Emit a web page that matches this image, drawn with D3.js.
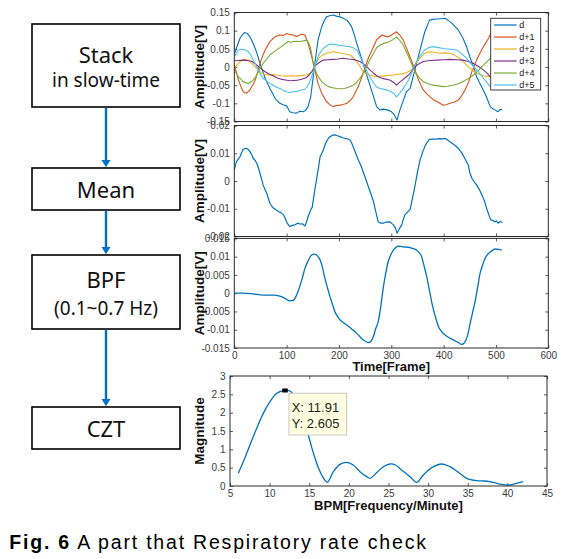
<!DOCTYPE html>
<html><head><meta charset="utf-8">
<script src="https://cdn.jsdelivr.net/npm/d3@7"></script>
<style>
body{margin:0;background:#fff;}
svg{display:block;}
</style></head><body>
<svg id="fig" width="571" height="559"></svg>
<script>
// ---------------- DATA ----------------
const flowLabels = [["Stack","in slow-time"],["Mean"],["BPF","(0.1~0.7 Hz)"],["CZT"]];
const seriesNames = ["d","d+1","d+2","d+3","d+4","d+5"];
const seriesColors = ["#0072BD","#D95319","#EDB120","#7E2F8E","#77AC30","#4DBEEE"];

const frameTicks = [0,100,200,300,400,500,600];
const amp1Ticks = [-0.15,-0.1,-0.05,0,0.05,0.1,0.15];
const amp2Ticks = [-0.02,-0.01,0,0.01,0.02];
const amp3Ticks = [-0.015,-0.01,-0.005,0,0.005,0.01,0.015];
const bpmTicks = [5,10,15,20,25,30,35,40,45];
const magTicks = [0,0.5,1,1.5,2,2.5,3];

// [frame, amplitude V]
const seriesD = [[0,0.035],[6,0.06],[11,0.079],[16,0.09],[20,0.095],[25,0.092],[30,0.083],[35,0.068],[40,0.051],[45,0.03],[49,0.01],[54,-0.01],[59,-0.031],[64,-0.047],[68,-0.059],[73,-0.072],[78,-0.086],[83,-0.095],[87,-0.1],[93,-0.104],[100,-0.107],[103,-0.115],[106,-0.123],[112,-0.126],[119,-0.127],[125,-0.122],[132,-0.123],[137,-0.118],[141,-0.109],[146,-0.082],[150,-0.036],[154,0.01],[160,0.074],[167,0.111],[172,0.128],[176,0.138],[182,0.141],[189,0.143],[195,0.14],[202,0.138],[208,0.134],[215,0.129],[220,0.12],[224,0.111],[229,0.09],[234,0.065],[243,0.024],[253,-0.022],[262,-0.063],[272,-0.109],[278,-0.118],[285,-0.116],[291,-0.118],[296,-0.12],[300,-0.123],[305,-0.13],[311,-0.146],[316,-0.12],[321,-0.1],[329,-0.068],[336,-0.059],[345,-0.008],[355,0.047],[364,0.097],[373,0.129],[380,0.131],[387,0.132],[395,0.133],[403,0.134],[410,0.127],[416,0.12],[422,0.111],[428,0.102],[437,0.079],[444,0.055],[450,0.028],[457,0.002],[463,-0.027],[471,-0.05],[479,-0.073],[484,-0.09],[489,-0.109],[494,-0.115],[498,-0.118],[504,-0.123],[508,-0.117],[512,-0.118]];
const seriesD1 = [[0,0.006],[4,-0.015],[8,-0.036],[13,-0.055],[17,-0.068],[24,-0.072],[30,-0.063],[35,-0.05],[40,-0.036],[45,-0.012],[49,0.01],[54,0.03],[59,0.047],[64,0.06],[68,0.07],[73,0.077],[78,0.083],[87,0.088],[94,0.087],[100,0.092],[107,0.089],[113,0.088],[119,0.084],[125,0.088],[130,0.09],[135,0.088],[141,0.065],[148,0.028],[154,-0.008],[160,-0.045],[167,-0.072],[176,-0.095],[182,-0.103],[189,-0.109],[196,-0.106],[202,-0.105],[208,-0.103],[215,-0.1],[221,-0.093],[227,-0.082],[237,-0.054],[246,-0.018],[256,0.024],[266,0.056],[272,0.075],[282,0.088],[288,0.085],[294,0.083],[300,0.088],[305,0.092],[310,0.097],[316,0.088],[323,0.074],[333,0.037],[342,0.005],[352,-0.036],[361,-0.063],[368,-0.074],[374,-0.082],[380,-0.09],[387,-0.095],[393,-0.1],[399,-0.105],[405,-0.104],[412,-0.1],[420,-0.097],[428,-0.091],[434,-0.08],[441,-0.063],[448,-0.04],[454,-0.013],[463,0.019],[470,0.04],[476,0.056],[486,0.079],[490,0.092],[498,0.1],[505,0.102],[512,0.1]];
const seriesD2 = [[0,-0.004],[5,0.005],[11,0.015],[16,0.02],[20,0.021],[25,0.019],[30,0.015],[36,0.006],[43,-0.004],[52,-0.017],[58,-0.02],[65,-0.022],[73,-0.021],[81,-0.022],[90,-0.024],[100,-0.025],[110,-0.024],[119,-0.025],[128,-0.023],[138,-0.022],[143,-0.019],[148,-0.013],[154,0.005],[159,0.018],[164,0.028],[170,0.034],[176,0.038],[183,0.04],[189,0.042],[197,0.04],[205,0.038],[213,0.036],[221,0.033],[228,0.025],[234,0.015],[240,0.002],[246,-0.013],[253,-0.019],[259,-0.022],[266,-0.025],[272,-0.027],[279,-0.025],[285,-0.025],[294,-0.023],[304,-0.022],[313,-0.02],[323,-0.019],[331,-0.014],[339,-0.008],[345,0.005],[352,0.019],[358,0.03],[364,0.038],[370,0.041],[377,0.042],[385,0.04],[393,0.038],[402,0.039],[412,0.038],[421,0.032],[431,0.024],[439,0.013],[447,0.001],[455,-0.009],[463,-0.017],[471,-0.022],[479,-0.025],[490,-0.027],[500,-0.026],[512,-0.027]];
const seriesD3 = [[0,0.017],[8,0.018],[17,0.019],[25,0.018],[33,0.016],[40,0.009],[46,0.001],[52,-0.006],[59,-0.013],[67,-0.02],[75,-0.025],[82,-0.03],[90,-0.034],[98,-0.036],[106,-0.038],[114,-0.037],[122,-0.036],[130,-0.033],[138,-0.029],[143,-0.022],[148,-0.013],[152,-0.004],[156,0.005],[163,0.013],[170,0.019],[180,0.02],[189,0.021],[198,0.022],[208,0.024],[218,0.022],[227,0.021],[234,0.018],[240,0.015],[247,0.008],[253,0.001],[259,-0.008],[266,-0.017],[272,-0.024],[278,-0.029],[285,-0.032],[291,-0.034],[297,-0.036],[304,-0.042],[310,-0.05],[315,-0.043],[321,-0.036],[327,-0.029],[333,-0.022],[339,-0.012],[345,0.001],[353,0.009],[361,0.015],[374,0.018],[387,0.019],[400,0.02],[412,0.021],[425,0.02],[437,0.019],[447,0.015],[457,0.01],[466,0.002],[476,-0.008],[483,-0.017],[489,-0.027],[500,-0.03],[512,-0.032]];
const seriesD4 = [[0,-0.008],[4,-0.018],[8,-0.027],[13,-0.034],[17,-0.04],[22,-0.043],[27,-0.045],[31,-0.042],[36,-0.036],[41,-0.026],[46,-0.013],[50,-0.002],[55,0.01],[62,0.022],[68,0.033],[75,0.041],[81,0.047],[88,0.054],[94,0.06],[99,0.066],[103,0.07],[108,0.068],[113,0.07],[119,0.071],[125,0.07],[132,0.072],[138,0.074],[142,0.066],[145,0.056],[148,0.035],[151,0.01],[157,-0.017],[162,-0.03],[167,-0.04],[173,-0.048],[180,-0.054],[188,-0.057],[196,-0.059],[204,-0.06],[211,-0.059],[219,-0.055],[227,-0.05],[234,-0.042],[240,-0.031],[247,-0.016],[253,0.001],[259,0.02],[266,0.038],[272,0.053],[278,0.06],[285,0.065],[291,0.067],[297,0.07],[304,0.076],[310,0.083],[315,0.075],[321,0.065],[327,0.047],[333,0.028],[339,0.008],[345,-0.013],[353,-0.029],[361,-0.04],[370,-0.046],[380,-0.05],[390,-0.052],[399,-0.054],[408,-0.053],[418,-0.05],[428,-0.046],[437,-0.04],[447,-0.032],[457,-0.022],[466,-0.01],[476,0.005],[483,0.015],[489,0.024],[500,0.04],[512,0.055]];
const seriesD5 = [[0,0.028],[4,0.038],[8,0.047],[13,0.049],[17,0.048],[22,0.046],[27,0.042],[32,0.032],[36,0.019],[41,0.006],[46,-0.008],[50,-0.02],[55,-0.031],[62,-0.039],[68,-0.045],[75,-0.051],[81,-0.056],[88,-0.06],[94,-0.065],[100,-0.068],[106,-0.07],[112,-0.068],[119,-0.067],[127,-0.064],[135,-0.061],[139,-0.055],[143,-0.045],[147,-0.03],[151,-0.013],[155,0.006],[160,0.028],[165,0.042],[170,0.051],[176,0.058],[183,0.063],[192,0.062],[202,0.06],[211,0.058],[221,0.056],[228,0.052],[234,0.047],[240,0.03],[246,0.01],[253,-0.01],[259,-0.027],[266,-0.044],[272,-0.055],[278,-0.059],[285,-0.061],[291,-0.063],[297,-0.066],[304,-0.072],[310,-0.082],[316,-0.072],[321,-0.063],[327,-0.05],[333,-0.036],[340,-0.012],[348,0.015],[356,0.033],[364,0.047],[370,0.052],[377,0.056],[388,0.054],[399,0.051],[412,0.049],[425,0.047],[435,0.036],[444,0.024],[453,0.008],[463,-0.008],[471,-0.022],[479,-0.036],[489,-0.054],[500,-0.06],[512,-0.062]];
const meanD = [[0,0.004],[4,0.007],[8,0.008],[11,0.0088],[14,0.0102],[17,0.0114],[22,0.0118],[26,0.0115],[30,0.0106],[33,0.0096],[36,0.0082],[40,0.0074],[43,0.0064],[46,0.0048],[49,0.0028],[52,0.0008],[55,-0.0014],[59,-0.0032],[62,-0.0044],[65,-0.0062],[68,-0.008],[72,-0.0092],[75,-0.0098],[80,-0.0104],[84,-0.011],[89,-0.0114],[94,-0.0122],[98,-0.0138],[101,-0.0152],[106,-0.0164],[111,-0.016],[116,-0.0158],[121,-0.0152],[125,-0.0155],[130,-0.0154],[135,-0.0162],[138,-0.0148],[141,-0.0128],[146,-0.0104],[149,-0.0094],[151,-0.0068],[154,-0.003],[157,0.0004],[161,0.005],[164,0.0088],[167,0.0098],[170,0.0112],[173,0.0128],[176,0.0142],[180,0.0154],[183,0.016],[188,0.0165],[192,0.0166],[197,0.0163],[202,0.016],[207,0.0156],[211,0.0154],[216,0.0152],[221,0.0148],[224,0.0138],[227,0.0124],[232,0.01],[237,0.0076],[242,0.0056],[246,0.0034],[251,0.0008],[256,-0.002],[261,-0.0046],[266,-0.0074],[270,-0.0108],[275,-0.0147],[280,-0.0152],[285,-0.0152],[290,-0.0148],[297,-0.0147],[304,-0.0158],[308,-0.017],[311,-0.0188],[316,-0.017],[320,-0.0158],[323,-0.0138],[326,-0.0122],[331,-0.0112],[336,-0.0102],[340,-0.0066],[345,-0.002],[350,0.0032],[355,0.0076],[360,0.0104],[364,0.0124],[368,0.0138],[373,0.015],[380,0.0151],[387,0.0151],[392,0.0153],[398,0.0152],[403,0.0154],[410,0.0144],[416,0.0136],[422,0.0128],[428,0.0118],[433,0.0106],[437,0.0094],[442,0.0076],[447,0.0058],[450,0.003],[454,0.001],[458,-0.0002],[463,-0.0014],[468,-0.003],[473,-0.005],[478,-0.0072],[482,-0.0098],[486,-0.012],[490,-0.014],[494,-0.0142],[498,-0.0147],[501,-0.0144],[504,-0.0152],[508,-0.0146],[512,-0.015]];
const bpfD = [[0,0],[17,0],[36,-0.0002],[55,-0.0005],[75,-0.0005],[87,-0.0008],[97,-0.0014],[106,-0.0021],[113,-0.0019],[119,-0.0005],[125,0.0018],[130,0.0042],[135,0.0068],[141,0.0088],[146,0.0102],[150,0.0106],[154,0.0107],[159,0.0102],[164,0.0091],[169,0.0068],[173,0.0041],[178,0.0015],[183,-0.001],[188,-0.0032],[192,-0.005],[197,-0.0063],[202,-0.0073],[208,-0.008],[215,-0.0087],[221,-0.0094],[227,-0.0101],[234,-0.011],[240,-0.0119],[245,-0.0126],[250,-0.0131],[256,-0.0135],[261,-0.0132],[266,-0.0118],[270,-0.0098],[275,-0.0078],[280,-0.0035],[285,0.0018],[290,0.006],[294,0.0086],[299,0.0105],[304,0.0118],[309,0.0126],[313,0.0129],[318,0.0128],[323,0.0127],[330,0.0126],[336,0.0125],[342,0.0122],[348,0.0118],[353,0.0111],[358,0.01],[362,0.0078],[367,0.005],[372,0.0014],[377,-0.0023],[382,-0.0053],[387,-0.0078],[391,-0.0094],[396,-0.0105],[404,-0.0116],[412,-0.0123],[419,-0.0128],[425,-0.0133],[430,-0.0137],[434,-0.014],[438,-0.0138],[441,-0.0133],[446,-0.0114],[450,-0.0087],[455,-0.0055],[460,-0.0023],[465,0.0016],[469,0.005],[474,0.0075],[479,0.0095],[484,0.0106],[489,0.0113],[494,0.0118],[498,0.0121],[505,0.012],[511,0.0118]];
// [BPM, magnitude]
const cztD = [[6.05,0.35],[6.68,0.66],[7.52,1.12],[8.36,1.57],[9.2,1.98],[10.05,2.3],[10.89,2.53],[11.91,2.605],[12.57,2.59],[13.3,2.4],[14.0,2.0],[14.88,1.39],[15.3,1.06],[15.73,0.755],[16.15,0.5],[16.57,0.3],[17.28,0.1],[18.04,0.39],[18.88,0.59],[19.72,0.645],[20.56,0.573],[21.4,0.39],[22.24,0.255],[22.66,0.21],[23.5,0.36],[24.35,0.527],[25.19,0.6],[25.82,0.58],[26.66,0.436],[27.71,0.254],[28.55,0.1],[29.4,0.3],[30.45,0.5],[31.71,0.6],[32.76,0.527],[33.81,0.373],[34.86,0.209],[36.12,0.145],[37.17,0.136],[38.22,0.1],[39.27,0.045],[40.32,0.027],[41.16,0.073],[42.0,0.118]];
const peakBPM = 11.91, peakMag = 2.605;
const captionBold = "Fig. 6", captionText = " A part that Respiratory rate check";

// ---------------- DRAW ----------------
const svg = d3.select("#fig");
const SANS = "'Liberation Sans', Arial, sans-serif";
const FLOWFONT = "'Noto Sans', 'Open Sans', sans-serif";

// Flowchart
const boxX0 = 32, boxX1 = 180, boxCx = 106;
const boxY = [[24,107],[168,210],[255,329],[407,449]];
const textLayout = [[[62.7,22],[87.3,19]],[[198.3,22]],[[288.3,22],[315,19]],[[436.7,22]]];
const fc = svg.append("g");
flowLabels.forEach((lines,i)=>{
  const [y0,y1] = boxY[i];
  fc.append("rect").attr("x",boxX0).attr("y",y0).attr("width",boxX1-boxX0).attr("height",y1-y0)
    .attr("fill","#fff").attr("stroke","#000").attr("stroke-width",1.6);
  lines.forEach((t,j)=>{
    fc.append("text").attr("x",boxCx).attr("y",textLayout[i][j][0]).attr("text-anchor","middle")
      .attr("font-family",FLOWFONT).attr("font-size",textLayout[i][j][1]).attr("fill","#111").text(t);
  });
  if(i<flowLabels.length-1){
    const ya = y1, yb = boxY[i+1][0];
    fc.append("line").attr("x1",boxCx).attr("x2",boxCx).attr("y1",ya+0.8).attr("y2",yb-6)
      .attr("stroke","#0070C0").attr("stroke-width",2.4);
    fc.append("path").attr("d",`M${boxCx-4.5},${yb-8} L${boxCx+4.5},${yb-8} L${boxCx},${yb-0.8} Z`).attr("fill","#0070C0");
  }
});

// Chart frames
const fmt = v => String(+(+v).toFixed(4));
function makeFrame(cfg){
  const g = svg.append("g");
  const x = d3.scaleLinear().domain(cfg.xDomain).range([cfg.left,cfg.right]);
  const y = d3.scaleLinear().domain(cfg.yDomain).range([cfg.bottom,cfg.top]);
  g.append("rect").attr("x",cfg.left).attr("y",cfg.top).attr("width",cfg.right-cfg.left).attr("height",cfg.bottom-cfg.top).attr("fill","#fff");
  const axes = g.append("g").attr("font-family",SANS).attr("font-size",6.4);
  axes.append("g").attr("transform",`translate(${cfg.left},0)`)
    .call(d3.axisLeft(y).tickValues(cfg.yTicks).tickSizeInner(-3).tickSizeOuter(0).tickPadding(4.5).tickFormat(fmt));
  axes.append("g").attr("transform",`translate(${cfg.right},0)`)
    .call(d3.axisRight(y).tickValues(cfg.yTicks).tickSizeInner(-3).tickSizeOuter(0).tickFormat(""));
  axes.append("g").attr("transform",`translate(0,${cfg.bottom})`)
    .call(d3.axisBottom(x).tickValues(cfg.xTicks).tickSizeInner(-3).tickSizeOuter(0).tickPadding(3.5).tickFormat(cfg.xLabels?fmt:""));
  axes.append("g").attr("transform",`translate(0,${cfg.top})`)
    .call(d3.axisTop(x).tickValues(cfg.xTicks).tickSizeInner(-3).tickSizeOuter(0).tickFormat(""));
  axes.selectAll(".domain").remove();
  axes.selectAll(".tick line").attr("stroke","#333").attr("stroke-width",0.8);
  axes.selectAll(".tick text").attr("fill","#3c3c3c");
  const clipId = "clip"+cfg.id;
  g.append("clipPath").attr("id",clipId).append("rect").attr("x",cfg.left).attr("y",cfg.top).attr("width",cfg.right-cfg.left).attr("height",cfg.bottom-cfg.top);
  const plot = g.append("g").attr("clip-path",`url(#${clipId})`);
  const border = ()=> g.append("rect").attr("x",cfg.left).attr("y",cfg.top).attr("width",cfg.right-cfg.left).attr("height",cfg.bottom-cfg.top)
      .attr("fill","none").attr("stroke","#2a2a2a").attr("stroke-width",1);
  // y title
  g.append("text").attr("transform",`translate(${cfg.yTitleX},${(cfg.top+cfg.bottom)/2}) rotate(-90)`)
    .attr("text-anchor","middle").attr("font-family",SANS).attr("font-weight","bold").attr("font-size",13.5).attr("fill","#111").text(cfg.yTitle);
  if(cfg.xTitle){
    g.append("text").attr("x",(cfg.left+cfg.right)/2).attr("y",cfg.xTitleY).attr("text-anchor","middle")
      .attr("font-family",SANS).attr("font-weight","bold").attr("font-size",13).attr("fill","#111").text(cfg.xTitle);
  }
  return {g,x,y,plot,border};
}

const F1 = makeFrame({id:1,left:234.3,right:548.3,top:12.5,bottom:121.5,xDomain:[0,600],yDomain:[-0.15,0.15],
  xTicks:frameTicks,yTicks:amp1Ticks,xLabels:false,yTitle:"Amplitude[V]",yTitleX:204});
const F2 = makeFrame({id:2,left:234.3,right:548.3,top:125.5,bottom:236.5,xDomain:[0,600],yDomain:[-0.02,0.02],
  xTicks:frameTicks,yTicks:amp2Ticks,xLabels:false,yTitle:"Amplitude[V]",yTitleX:204});
const F3 = makeFrame({id:3,left:234.3,right:548.3,top:238.4,bottom:348,xDomain:[0,600],yDomain:[-0.015,0.015],
  xTicks:frameTicks,yTicks:amp3Ticks,xLabels:true,yTitle:"Amplitude[V]",yTitleX:204,xTitle:"Time[Frame]",xTitleY:371});
const F4 = makeFrame({id:4,left:230,right:547,top:376,bottom:486,xDomain:[5,45],yDomain:[0,3],
  xTicks:bpmTicks,yTicks:magTicks,xLabels:true,yTitle:"Magnitude",yTitleX:204,xTitle:"BPM[Frequency/Minute]",xTitleY:510});

// Chart 1 lines
const allSeries = [seriesD,seriesD1,seriesD2,seriesD3,seriesD4,seriesD5];
const line1 = d3.line().x(d=>F1.x(d[0])).y(d=>F1.y(d[1]));
allSeries.forEach((s,i)=>{
  F1.plot.append("path").attr("d",line1(s)).attr("fill","none").attr("stroke",seriesColors[i]).attr("stroke-width",1.1).attr("stroke-linejoin","round");
});
F1.border();
// legend
const lg = F1.g.append("g");
lg.append("rect").attr("x",490.7).attr("y",18.3).attr("width",50).attr("height",71.7).attr("fill","#fff").attr("stroke","#2a2a2a").attr("stroke-width",0.9);
seriesNames.forEach((n,i)=>{
  const yy = 25 + i*12;
  lg.append("line").attr("x1",494).attr("x2",516.7).attr("y1",yy).attr("y2",yy).attr("stroke",seriesColors[i]).attr("stroke-width",1.2);
  lg.append("text").attr("x",519.3).attr("y",yy+3).attr("font-family",SANS).attr("font-size",9).attr("fill","#222").text(n);
});

// Chart 2
const line2 = d3.line().x(d=>F2.x(d[0])).y(d=>F2.y(d[1]));
F2.plot.append("path").attr("d",line2(meanD)).attr("fill","none").attr("stroke",seriesColors[0]).attr("stroke-width",1.2).attr("stroke-linejoin","round");
F2.border();

// Chart 3
const line3 = d3.line().x(d=>F3.x(d[0])).y(d=>F3.y(d[1])).curve(d3.curveMonotoneX);
F3.plot.append("path").attr("d",line3(bpfD)).attr("fill","none").attr("stroke",seriesColors[0]).attr("stroke-width",1.3);
F3.border();

// Chart 4
const line4 = d3.line().x(d=>F4.x(d[0])).y(d=>F4.y(d[1])).curve(d3.curveCatmullRom.alpha(0.5));
F4.plot.append("path").attr("d",line4(cztD)).attr("fill","none").attr("stroke",seriesColors[0]).attr("stroke-width",1.3);
F4.border();
// data tip
const px = F4.x(peakBPM), py = F4.y(peakMag);
F4.g.append("rect").attr("x",px-2.5).attr("y",py-2).attr("width",5.5).attr("height",4).attr("fill","#000");
const tip = F4.g.append("g");
tip.append("rect").attr("x",px+4.2).attr("y",py+2.8).attr("width",57.7).attr("height",41.7).attr("fill","#FFFFE1").attr("stroke","#c8c8c8").attr("stroke-width",1);
tip.append("text").attr("x",px+6.9).attr("y",py+21.2).attr("font-family",SANS).attr("font-size",13).attr("fill","#222").text("X: "+peakBPM);
tip.append("text").attr("x",px+6.9).attr("y",py+37.8).attr("font-family",SANS).attr("font-size",13).attr("fill","#222").text("Y: "+peakMag);

// Caption
const cap = svg.append("text").attr("x",9.3).attr("y",549).attr("font-family",SANS).attr("font-size",19.5).attr("letter-spacing",1.8).attr("fill","#000");
cap.append("tspan").attr("font-weight","bold").text(captionBold);
cap.append("tspan").text(captionText);
</script>
</body></html>
